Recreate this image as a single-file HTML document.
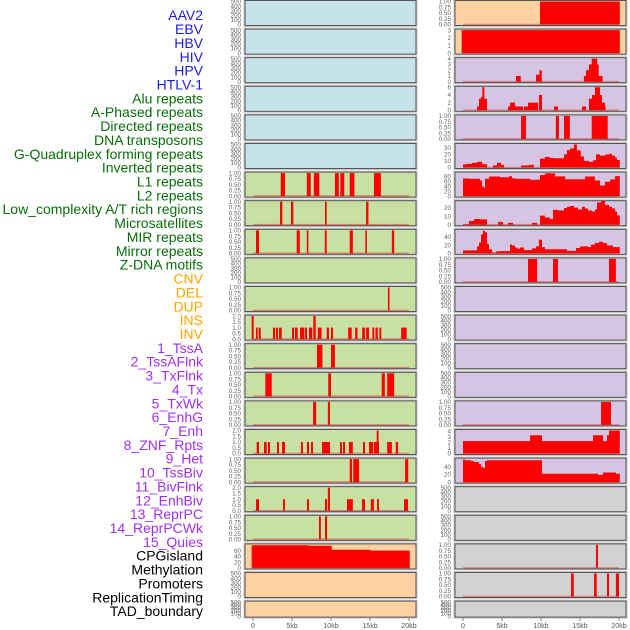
<!DOCTYPE html>
<html><head><meta charset="utf-8">
<style>
html,body{margin:0;padding:0;background:#fff;}
svg{display:block;font-family:"Liberation Sans",sans-serif;}
</style></head>
<body>
<svg id="chart" width="630" height="630" viewBox="0 0 630 630" xmlns="http://www.w3.org/2000/svg">
<g id="labels"></g>
<g id="panels"></g>
<g id="xaxes"></g>
</svg>
<script>
// ---- labels ----
const trackNames = ["AAV2","EBV","HBV","HIV","HPV","HTLV-1","Alu repeats","A-Phased repeats","Directed repeats","DNA transposons","G-Quadruplex forming repeats","Inverted repeats","L1 repeats","L2 repeats","Low_complexity A/T rich regions","Microsatellites","MIR repeats","Mirror repeats","Z-DNA motifs","CNV","DEL","DUP","INS","INV","1_TssA","2_TssAFlnk","3_TxFlnk","4_Tx","5_TxWk","6_EnhG","7_Enh","8_ZNF_Rpts","9_Het","10_TssBiv","11_BivFlnk","12_EnhBiv","13_ReprPC","14_ReprPCWk","15_Quies","CPGisland","Methylation","Promoters","ReplicationTiming","TAD_boundary"];
const groupSizes = [6,13,5,15,5];
const groupColors = ["#1a1ae6","#0a6e0a","#ffa500","#a030f0","#000000"];

const xTicks = [0,5,10,15,20];
const xTickLabels = ["0","5kb","10kb","15kb","20kb"];

// ---- left column data (kb intervals) ----
const L6 = [[3.55,4.1],[6.9,7.4],[7.8,8.5],[10.5,11],[11.2,11.7],[12.4,13],[15.5,16.4]];
const L7 = [[3.46,3.76],[4.87,5.17],[9.23,9.45],[14.5,14.8]];
const L8 = [[0.38,0.77],[5.6,6.0],[6.9,7.1],[9.2,9.45],[12.4,12.8],[14.4,14.6],[17.8,18.1]];
const L10 = [[17.3,17.5]];
const L11 = [[0.38,0.6],[0.73,0.99],[2.56,2.82],[2.95,3.2],[3.33,3.68],[5.0,5.26],[5.38,5.73],[6.03,6.58],[6.67,6.92],[7.18,7.6],[8.3,8.8],[9.45,9.74],[10.0,10.26],[12.2,12.65],[13.1,13.4],[14.0,14.36],[14.5,14.87],[15.3,15.55],[15.7,16.0],[16.2,16.45],[19.0,19.7]];
const L11b = [[-0.17,0.09],[7.73,8.04]];
const L12 = [[8.2,8.9],[10.0,10.5]];
const L13 = [[1.58,2.4],[9.65,10.0],[16.5,16.9],[17.2,18.1]];
const L14 = [[7.7,8.1],[9.6,9.87]];
const L15 = [[0.47,0.77],[1.41,1.76],[1.92,2.18],[3.08,3.33],[3.72,4.1],[6.15,6.4],[6.92,7.18],[7.44,7.7],[8.85,9.87],[11.15,11.4],[11.54,11.8],[12.3,12.8],[14.1,14.36],[14.87,15.4],[15.5,16.15],[17.2,17.8],[18.3,18.6]];
const L15b = [[15.86,16.1]];
const L16 = [[12.4,12.7],[12.86,13.6],[19.5,19.9]];
const L17 = [[0.38,0.77],[3.85,4.1],[6.92,7.18],[9.23,9.5],[12.05,12.8],[13.97,14.36],[15.1,15.5],[15.9,16.15],[19.36,19.87]];
const L17b = [[9.6,9.87]];
const L18 = [[8.46,8.7],[9.23,9.5]];
const L19edges = [-0.17,7.1,10.1,15.1,20.1];
const L19vals = [79,77,63,60];

// ---- right column data ----
const R0edges = [9.87,20.1]; const R0vals = [1];
const R1edges = [-0.17,20.1]; const R1vals = [3];
const R2edges = [6.8,7.4,9.36,9.8,10.1,15.5,15.77,16.15,16.5,17.2,17.4,17.9];
const R2vals = [1,0,1.2,2,0,1,2,3,4,3,1];
const R3edges = [1.79,2.05,2.3,2.48,2.74,3.08,5.77,6.03,6.67,7.7,7.82,8.33,9.62,9.74,10.13,11.67,12.18,15.26,15.77,16.15,16.54,16.92,17.56,17.82,18.2,18.3];
const R3vals = [1,3,3.5,6,3,0,1,2,1,0,1,2,0,4,0,1,0,1,0,3,4,6,4,2,1];
const R4 = [[7.44,8.08],[11.9,12.3],[12.95,13.7],[16.5,18.55]];
const R5edges = [0,0.38,1.15,1.79,2.44,3.08,3.85,4.36,4.87,5.26,7.44,8.46,9.1,9.87,10.5,11.15,11.67,12.95,13.33,13.72,14.23,14.6,15.1,15.5,16.15,16.67,17.05,17.56,18.2,18.72,19.1,19.5,19.74,20.1];
const R5vals = [4.5,5.5,7,8.5,5,0,3,7,4,0,3,4,0,13.5,16,14.5,14,20,26.5,29,35,26,17,10,8.5,11,20,18,19.5,21,18,15,11.5];
const R6edges = [0,0.9,2.18,2.44,2.69,2.82,3.33,4.74,5.9,6.28,6.67,8.6,9.87,10.5,11.8,13.1,15.64,16.9,17.56,18.2,18.85,19.5,20.1];
const R6vals = [71,70,63,39,34,70,79,76,81,72,70,66,85,92,80,68,79,63,43,58,67,81];
const R7edges = [0,0.77,1.41,2.18,3.08,4.49,5.13,5.77,6.4,8.85,9.5,9.87,10.5,11.15,11.54,12.18,12.95,13.33,13.72,14.23,14.74,15.26,15.64,16.03,16.54,16.92,17.18,17.7,18.2,18.72,19.1,19.5,19.74,20.1];
const R7vals = [0.5,4.4,6.7,6.3,0,3.3,0,2.2,0,2.2,0,10.7,8.5,6.7,17.4,16.7,19.6,21,22,20,17.8,21,19,16.7,15.5,17.8,26,27.8,23.3,21,19,15.5,11];
const R8edges = [0,1.79,2.05,2.31,2.56,2.82,3.08,3.33,3.72,4.23,4.74,6.03,6.28,6.67,6.92,7.3,7.82,8.85,9.36,9.74,10.13,10.5,13.33,14.49,15.0,16.03,16.41,16.92,17.44,17.95,18.46,19.23,20.1];
const R8vals = [7,17,26,46,55,51,23,10,1.5,4.6,5.4,21.5,19,14,11.5,14,7.7,12,17,33,15,10,6,13,17,15,21,25,28,25,19,15];
const R9 = [[8.33,9.5],[11.54,12.18],[18.72,19.6]];
const R14 = [[17.7,18.97]];
const R15edges = [0,8.6,10.13,16.67,17.95,18.46,18.72,20.1];
const R15vals = [2.2,3.26,2.2,3.26,2.2,3.26,4.1];
const R16edges = [0,0.26,1.03,1.41,2.05,2.31,2.56,2.82,3.08,10.13,17.3,17.95,19.6,20.1];
const R16vals = [59,57,55,52.5,47,40,37,55,57,21.7,19,25,21.7];
const R19 = [[17.05,17.3]];
const R20 = [[13.85,14.2],[16.8,17.14],[18.46,18.72],[19.6,20.0]];

const NS = "http://www.w3.org/2000/svg";
function mk(tag, attrs, parent){const e=document.createElementNS(NS,tag);for(const k in attrs)e.setAttribute(k,attrs[k]);parent.appendChild(e);return e;}

// labels
const lg = document.getElementById("labels");
let idx=0;
groupSizes.forEach((n,g)=>{for(let i=0;i<n;i++){
  const t=mk("text",{x:203,y:16.5+13.86*idx,"text-anchor":"end","dominant-baseline":"middle","font-size":"14",fill:groupColors[g]},lg);
  t.textContent=trackNames[idx];
  
  
  idx++;}});

const BG={blue:"#c7e3ea",green:"#c8e1a3",orange:"#ffd1a0",purple:"#d5c5e2",grey:"#d2d2d2"};
const t01=[0,0.25,0.5,0.75,1], t01l=["0.00","0.25","0.50","0.75","1.00"];
const t02=[0,0.5,1,1.5,2], t02l=["0.0","0.5","1.0","1.5","2.0"];
const t500=[0,100,200,300,400,500], t500l=["0","100","200","300","400","500"];
function empty(bg){return {bg,ymax:500,ticks:t500,tl:t500l};}
function sp(bg,a,b){return {bg,ymax:b?2:1,ticks:b?t02:t01,tl:b?t02l:t01l,spikes:a,spikes2:b,base:true};}
function st(bg,e,v,ymax,ticks){return {bg,ymax,ticks,tl:ticks.map(String),edges:e,vals:v,base:true};}

const left=[empty(BG.blue),empty(BG.blue),empty(BG.blue),empty(BG.blue),empty(BG.blue),empty(BG.blue),
 sp(BG.green,L6),sp(BG.green,L7),sp(BG.green,L8),empty(BG.green),sp(BG.green,L10),sp(BG.green,L11,L11b),
 sp(BG.green,L12),sp(BG.green,L13),sp(BG.green,L14),sp(BG.green,L15,L15b),sp(BG.green,L16),sp(BG.green,L17,L17b),sp(BG.green,L18),
 st(BG.orange,L19edges,L19vals,80,[0,20,40,60]),empty(BG.orange),empty(BG.orange)];
const r0=st(BG.orange,R0edges,R0vals,1,t01); r0.tl=t01l;
const right=[r0,st(BG.orange,R1edges,R1vals,3,[0,1,2,3]),
 st(BG.purple,R2edges,R2vals,4,[0,1,2,3,4]),st(BG.purple,R3edges,R3vals,6,[0,2,4,6]),
 sp(BG.purple,R4),st(BG.purple,R5edges,R5vals,35,[0,10,20,30]),st(BG.purple,R6edges,R6vals,93,[0,20,40,60,80]),
 st(BG.purple,R7edges,R7vals,27,[0,10,20]),st(BG.purple,R8edges,R8vals,56,[0,20,40]),sp(BG.purple,R9),
 empty(BG.purple),empty(BG.purple),empty(BG.purple),empty(BG.purple),sp(BG.purple,R14),
 st(BG.purple,R15edges,R15vals,4.1,[0,1,2,3,4]),st(BG.purple,R16edges,R16vals,60,[0,20,40]),
 empty(BG.grey),empty(BG.grey),sp(BG.grey,R19),sp(BG.grey,R20),empty(BG.grey)];

const pg=document.getElementById("panels");
function drawCol(list,colX0,zeroX,colName){
  list.forEach((p,r)=>{
    const top=0.5+28.6*r, h=(r===21)?16:25, w=171;
    const g=mk("g",{},pg);
    
    
    mk("rect",{x:colX0-0.5,y:top-0.5,width:w+1,height:h+1,fill:"none",stroke:"#c8c8c8","stroke-width":2},g);
    mk("rect",{x:colX0,y:top,width:w,height:h,fill:p.bg},g);
    const y0=top+h-1, yTop=top+1;
    const ys=v=>y0-(v/p.ymax)*(y0-yTop);
    const xs=kb=>zeroX+kb*7.8;
    if(p.base){const b=mk("line",{x1:xs(0),x2:xs(20),y1:y0,y2:y0,stroke:"rgba(230,60,60,0.55)","stroke-width":1.6},g);
      }
    if(p.spikes){p.spikes.forEach(s=>{const e=mk("rect",{x:xs(s[0]),y:ys(1),width:Math.max(1.2,xs(s[1])-xs(s[0])),height:y0-ys(1),fill:"#ff0000"},g);
      });}
    if(p.spikes2){p.spikes2.forEach(s=>{const e=mk("rect",{x:xs(s[0]),y:ys(2),width:Math.max(1.2,xs(s[1])-xs(s[0])),height:y0-ys(2),fill:"#ff0000"},g);
      });}
    if(p.edges){let d="M"+xs(p.edges[0])+" "+y0;
      p.vals.forEach((v,i)=>{d+=" L"+xs(p.edges[i])+" "+ys(v)+" L"+xs(p.edges[i+1])+" "+ys(v);});
      d+=" L"+xs(p.edges[p.edges.length-1])+" "+y0+" Z";
      const e=mk("path",{d:d,fill:"#ff0000"},g);
      }
    mk("rect",{x:colX0,y:top,width:w,height:h,fill:"none",stroke:"#555","stroke-width":1},g);
    p.ticks.forEach((tv,i)=>{const t=mk("text",{x:colX0-4,y:ys(tv)+2.2,"text-anchor":"end","font-size":"6.3",fill:"#666"},g);
      t.textContent=p.tl[i];
      });
  });
}
drawCol(left,245,253,"left");
drawCol(right,455,463,"right");

const xg=document.getElementById("xaxes");
[253,463].forEach(z=>{xTicks.forEach((kb,i)=>{
  mk("line",{x1:z+kb*7.8,x2:z+kb*7.8,y1:618,y2:621,stroke:"#666","stroke-width":0.8},xg);
  const t=mk("text",{x:z+kb*7.8,y:628,"text-anchor":"middle","font-size":"7",fill:"#555"},xg);
  t.textContent=xTickLabels[i];
  });});
</script>
</body></html>
